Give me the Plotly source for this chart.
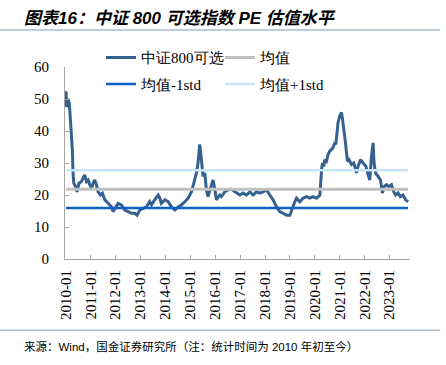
import plotly.graph_objects as go

dates = [
    "2010-01-05", "2010-01-12", "2010-02-02", "2010-02-18", "2010-03-01", "2010-03-25", "2010-04-08", "2010-04-16",
    "2010-04-27", "2010-05-27", "2010-06-14", "2010-07-14", "2010-08-18", "2010-09-10", "2010-10-05", "2010-10-31",
    "2010-11-24", "2010-12-18", "2011-01-12", "2011-02-06", "2011-03-01", "2011-03-26", "2011-04-19", "2011-05-23",
    "2011-06-22", "2011-07-26", "2011-09-13", "2011-11-01", "2011-11-25", "2011-12-20", "2012-02-06", "2012-03-27",
    "2012-05-15", "2012-07-02", "2012-08-21", "2012-10-09", "2012-11-11", "2012-12-21", "2013-02-07", "2013-03-29",
    "2013-05-16", "2013-06-11", "2013-07-28", "2013-09-16", "2013-10-11", "2013-11-03", "2013-12-23", "2014-02-10",
    "2014-03-30", "2014-05-19", "2014-07-06", "2014-08-25", "2014-10-12", "2014-11-30", "2015-01-19", "2015-02-26",
    "2015-04-01", "2015-04-24", "2015-05-19", "2015-06-13", "2015-07-07", "2015-08-01", "2015-08-25", "2015-09-18",
    "2015-10-12", "2015-11-06", "2015-11-30", "2015-12-24", "2016-01-18", "2016-03-07", "2016-04-01", "2016-05-20",
    "2016-07-08", "2016-08-26", "2016-10-14", "2016-11-08", "2016-12-27", "2017-02-14", "2017-04-04", "2017-05-23",
    "2017-07-10", "2017-08-29", "2017-10-16", "2017-12-04", "2018-01-22", "2018-03-11", "2018-04-29", "2018-06-18",
    "2018-08-05", "2018-09-23", "2018-11-11", "2018-12-31", "2019-01-24", "2019-03-13", "2019-04-07", "2019-05-25",
    "2019-07-13", "2019-09-01", "2019-10-19", "2019-12-07", "2020-01-26", "2020-03-15", "2020-04-09", "2020-04-23",
    "2020-05-12", "2020-05-26", "2020-06-20", "2020-07-13", "2020-08-07", "2020-09-01", "2020-09-25", "2020-10-19",
    "2020-11-03", "2020-11-22", "2020-12-06", "2021-01-01", "2021-01-26", "2021-02-10", "2021-03-01", "2021-03-20",
    "2021-04-10", "2021-04-24", "2021-05-18", "2021-06-22", "2021-07-26", "2021-09-03", "2021-09-27", "2021-11-01",
    "2021-12-09", "2022-01-18", "2022-02-21", "2022-03-17", "2022-04-11", "2022-05-05", "2022-05-19", "2022-06-09",
    "2022-07-17", "2022-08-21", "2022-09-19", "2022-10-12", "2022-11-16", "2022-12-20", "2023-01-29", "2023-03-04",
    "2023-04-02", "2023-05-06", "2023-06-09", "2023-07-17", "2023-08-25", "2023-09-29",
]
pe_values = [
    52.4, 47.5, 50.0, 49.0, 46.3, 39.0, 33.7, 27.4,
    23.7, 22.6, 21.0, 23.7, 24.2, 25.3, 26.3, 24.2,
    24.7, 23.2, 22.1, 23.7, 24.7, 23.2, 21.0, 20.0,
    20.6, 18.5, 17.4, 16.3, 14.8, 15.8, 17.4, 16.9,
    15.3, 14.8, 14.3, 14.3, 13.7, 15.3, 15.8, 16.3,
    17.9, 16.9, 18.5, 20.0, 19.0, 17.4, 18.5, 17.9,
    16.3, 15.3, 16.3, 16.9, 17.9, 19.0, 21.0, 23.7,
    26.9, 30.0, 35.8, 31.0, 25.8, 26.9, 21.6, 19.5,
    21.0, 22.6, 24.7, 22.1, 18.5, 20.0, 19.5, 21.0,
    21.6, 21.8, 21.0, 20.6, 20.0, 20.6, 20.0, 21.0,
    20.0, 21.0, 20.6, 21.0, 21.6, 20.0, 18.5, 16.3,
    14.8, 14.3, 13.7, 13.7, 15.3, 17.9, 19.0, 17.9,
    19.0, 19.5, 19.0, 19.5, 19.0, 20.0, 27.9, 30.0,
    29.0, 31.0, 30.5, 32.6, 33.7, 34.2, 34.8, 36.3,
    35.8, 39.5, 42.6, 44.7, 45.8, 43.7, 39.5, 37.4,
    33.2, 30.5, 31.0, 29.5, 30.0, 26.9, 29.0, 31.0,
    30.0, 29.0, 26.3, 24.7, 32.1, 36.3, 30.0, 26.9,
    25.8, 24.7, 20.6, 22.6, 23.2, 22.6, 23.2, 21.0,
    20.0, 20.6, 19.5, 20.0, 18.5, 17.9,
]
mean_value = 21.8
std_value = 5.9

series_names = ["中证800可选", "均值", "均值-1std", "均值+1std"]
tick_years = list(range(2010, 2024))
tick_vals = [f"{y}-01-01" for y in tick_years]
tick_text = [f"{y}-01" for y in tick_years]

serif = "Liberation Serif"
cjk_sans = "Liberation Sans, Noto Sans CJK SC, sans-serif"

PLOT_L, PLOT_T, PLOT_R, PLOT_B = 65, 67, 410, 259.5
PW, PH = PLOT_R - PLOT_L, PLOT_B - PLOT_T


def px(x):
    return (x - PLOT_L) / PW


def py(y):
    return (PLOT_B - y) / PH


fig = go.Figure()
fig.add_trace(go.Scatter(x=dates, y=pe_values, mode="lines", name=series_names[0],
                         line=dict(color="#35618F", width=3), legend="legend"))
span = [dates[0], dates[-1]]
fig.add_trace(go.Scatter(x=span, y=[mean_value] * 2, mode="lines", name=series_names[1],
                         line=dict(color="#C0C0C0", width=3), legend="legend"))
fig.add_trace(go.Scatter(x=span, y=[mean_value - std_value] * 2, mode="lines", name=series_names[2],
                         line=dict(color="#0E63C6", width=2.5), legend="legend2"))
fig.add_trace(go.Scatter(x=span, y=[mean_value + std_value] * 2, mode="lines", name=series_names[3],
                         line=dict(color="#C4E6F8", width=2.5), legend="legend2"))

legend_common = dict(orientation="h", xanchor="left", yanchor="middle",
                     font=dict(family=serif, size=15, color="#000000"),
                     bgcolor="rgba(0,0,0,0)", itemwidth=30, entrywidth=74,
                     entrywidthmode="pixels", itemclick=False)

fig.update_layout(
    width=446, height=365,
    margin=dict(l=PLOT_L, r=446 - PLOT_R, t=PLOT_T, b=365 - PLOT_B, autoexpand=False),
    paper_bgcolor="white", plot_bgcolor="white",
    showlegend=True,
    legend=dict(x=px(101), y=py(57.7), **legend_common),
    legend2=dict(x=px(101), y=py(84.3), **legend_common),
    xaxis=dict(
        type="date", range=["2009-12-20", "2023-10-28"],
        tickmode="array", tickvals=tick_vals, ticktext=tick_text,
        tickangle=-90, ticks="inside", ticklen=4, tickcolor="#A6A6A6",
        showline=True, linecolor="#A6A6A6", linewidth=1,
        showgrid=False, zeroline=False,
        tickfont=dict(family=serif, size=15, color="#000000"),
        ticklabelstandoff=4,
    ),
    yaxis=dict(
        range=[0, 60], dtick=10, ticks="inside", ticklen=4, tickcolor="#A6A6A6",
        showline=True, linecolor="#A6A6A6", linewidth=1,
        showgrid=False, zeroline=False,
        tickfont=dict(family=serif, size=15, color="#000000"),
        ticklabelstandoff=12,
    ),
    annotations=[
        dict(text="<b><i>图表16：中证 800 可选指数 PE 估值水平</i></b>",
             xref="paper", yref="paper", x=px(22), y=py(18),
             xanchor="left", yanchor="middle", showarrow=False,
             font=dict(family=cjk_sans, size=17, color="#000000")),
        dict(text="来源：Wind，国金证券研究所（注：统计时间为 2010 年初至今）",
             xref="paper", yref="paper", x=px(22), y=py(347),
             xanchor="left", yanchor="middle", showarrow=False,
             font=dict(family=cjk_sans, size=11.5, color="#000000")),
    ],
    shapes=[
        dict(type="line", xref="paper", yref="paper", x0=px(0), x1=px(440),
             y0=py(30), y1=py(30), line=dict(color="#A9BBCD", width=1.5)),
        dict(type="line", xref="paper", yref="paper", x0=px(0), x1=px(440),
             y0=py(331), y1=py(331), line=dict(color="#A9BBCD", width=1.5)),
    ],
)

fig.write_html(
    "out.html",
    config={"displayModeBar": False},
    post_script="document.body.style.margin='0';document.body.style.overflow='hidden';",
)
